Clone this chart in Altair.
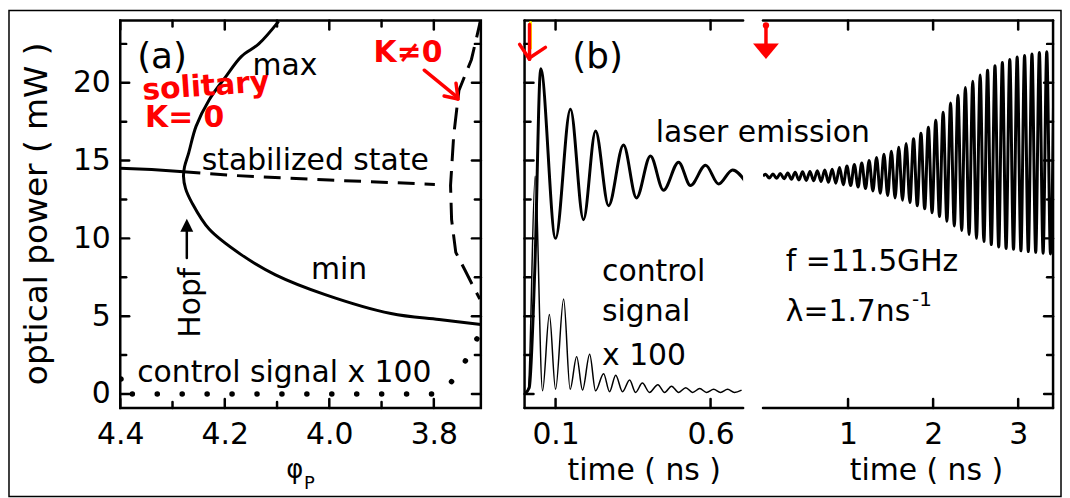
import altair as alt
import pandas as pd

FONT = "DejaVu Sans"
RED = "#ff0000"

# ---------------- panel (a): bifurcation diagram ----------------
a_osc_phi = [4.097, 4.135, 4.168, 4.198, 4.230, 4.255, 4.269, 4.277, 4.279, 4.275,
             4.263, 4.230, 4.168, 4.103, 4.008, 3.882, 3.79, 3.71]
a_osc_P = [23.95, 22.5, 21.7, 20.4, 18.9, 17.2, 15.5, 14.6, 14.0, 13.2,
           12.3, 10.6, 8.94, 7.66, 6.39, 5.17, 4.78, 4.47]
a_stable_phi = [4.40, 4.34, 4.279]
a_stable_P = [14.5, 14.42, 14.28]
a_stab_phi = [4.279, 4.187, 4.0, 3.798]
a_stab_P = [14.28, 14.05, 13.75, 13.47]
a_kd_phi = [3.710, 3.712, 3.728, 3.752, 3.762, 3.768, 3.766, 3.758, 3.741, 3.726, 3.712]
a_kd_P = [24.3, 23.8, 21.5, 19.5, 16.6, 13.4, 11.2, 9.1, 8.0, 7.0, 6.1]
a_ctrl_phi = [4.41, 4.40, 4.396, 4.30, 4.20, 4.10, 4.00, 3.90, 3.80, 3.78, 3.766, 3.747, 3.733, 3.720, 3.710]
a_ctrl_P = [2.5, 1.6, 0.0, 0.0, 0.0, 0.0, 0.0, 0.0, 0.0, 0.2, 0.8, 1.7, 2.5, 3.4, 4.0]
a_xlabels = [4.4, 4.2, 4.0, 3.8]
a_xminor = [4.3, 4.1, 3.9]
y_major = [0, 5, 10, 15, 20]
y_minor = [2.5, 7.5, 12.5, 17.5, 22.5]

# ---------------- panel (b): transient, 0..0.7 ns ----------------
b_laser_t = [0.0, 0.015, 0.033, 0.052, 0.100, 0.148, 0.190, 0.229, 0.271, 0.319, 0.361,
             0.406, 0.448, 0.497, 0.535, 0.584, 0.626, 0.671, 0.714]
b_laser_P = [0.0, 0.4, 8.0, 20.9, 10.0, 18.3, 11.2, 16.9, 12.1, 16.0, 12.6,
             15.3, 13.1, 14.9, 13.4, 14.7, 13.5, 14.4, 13.6]
b_ctrl_t = [0.0, 0.012, 0.034, 0.058, 0.080, 0.100, 0.126, 0.147, 0.168, 0.187, 0.210, 0.229,
            0.255, 0.274, 0.294, 0.316, 0.339, 0.358, 0.380, 0.403, 0.430, 0.452, 0.474,
            0.497, 0.520, 0.542, 0.565, 0.587, 0.610, 0.632, 0.655, 0.677, 0.700]
b_ctrl_P = [0.0, 0.3, 14.0, 0.2, 5.1, 0.3, 6.1, 0.3, 2.4, 0.25, 2.55, 0.2,
            1.3, 0.15, 1.2, 0.15, 0.9, 0.1, 0.7, 0.1, 0.6, 0.1, 0.5,
            0.1, 0.4, 0.1, 0.35, 0.1, 0.3, 0.1, 0.3, 0.1, 0.25]
b_xlabels = [0.1, 0.6]

# ---------------- panel (c): growing oscillation, 0..3.4 ns ----------------
c_peak_t = [0.030, 0.117, 0.204, 0.291, 0.378, 0.465, 0.552, 0.639, 0.726, 0.813,
            0.900, 0.987, 1.074, 1.161, 1.248, 1.335, 1.422, 1.509, 1.596, 1.683,
            1.770, 1.857, 1.944, 2.031, 2.118, 2.205, 2.292, 2.379, 2.466, 2.553,
            2.640, 2.727, 2.814, 2.901, 2.988, 3.075, 3.162, 3.249, 3.336, 3.423]
c_peak_P = [14.12, 14.14, 14.17, 14.2, 14.25, 14.28, 14.3, 14.35, 14.4, 14.45,
            14.55, 14.65, 14.75, 14.85, 15.0, 15.2, 15.4, 15.6, 15.85, 16.1,
            16.4, 16.75, 17.15, 17.6, 18.1, 18.7, 19.2, 19.7, 20.1, 20.5,
            20.8, 21.1, 21.3, 21.5, 21.65, 21.75, 21.85, 21.95, 22.0, 22.0]
c_trough_t = [0.074, 0.161, 0.248, 0.335, 0.422, 0.509, 0.596, 0.683, 0.770, 0.857,
              0.944, 1.031, 1.118, 1.205, 1.292, 1.379, 1.466, 1.553, 1.640, 1.727,
              1.814, 1.901, 1.988, 2.075, 2.162, 2.249, 2.336, 2.423, 2.510, 2.597,
              2.684, 2.771, 2.858, 2.945, 3.032, 3.119, 3.206, 3.293, 3.380]
c_trough_P = [13.88, 13.86, 13.83, 13.8, 13.75, 13.72, 13.7, 13.65, 13.6, 13.55,
              13.45, 13.4, 13.3, 13.2, 13.05, 12.9, 12.75, 12.6, 12.45, 12.3,
              12.1, 11.9, 11.65, 11.4, 11.1, 10.8, 10.5, 10.25, 10.0, 9.8,
              9.6, 9.45, 9.35, 9.3, 9.2, 9.15, 9.1, 9.05, 9.0]
c_start_t = [0.0]
c_start_P = [14.0]
c_xlabels = [1, 2, 3]

# ---------------- layout (plot-area sizes, scale domains) ----------------
WA, WB, WC, H = 363, 220, 292, 390
MAJ, MIN = 9, 6
Y_DOM = [-0.9, 24]
A_DOM = [3.71, 4.4]
B_DOM = [0, 0.705]
C_DOM = [0, 3.41]

one = pd.DataFrame({"k": [0]})
ysc = alt.Scale(domain=Y_DOM, nice=False, zero=False)


def label_axis(values, fmt, title, title_size=30, **kw):
    return alt.Axis(values=values, format=fmt, title=title, grid=False, domain=False,
                    ticks=False, tickSize=0, labelFont=FONT, labelFontSize=30,
                    labelColor="black", labelFlush=False, labelOverlap=False,
                    titleFont=FONT, titleFontSize=title_size, titleFontWeight="normal",
                    titleColor="black", **kw)


Xa = alt.X("phi:Q", scale=alt.Scale(domain=A_DOM, reverse=True, nice=False, zero=False),
           axis=label_axis(a_xlabels, ".1f", None, labelPadding=36, labelBaseline="alphabetic"))
Ya = alt.Y("P:Q", scale=ysc,
           axis=label_axis(y_major, "d", "optical power ( mW )", title_size=33, labelPadding=10,
                           titleX=-74, titleY=194, titleAngle=270,
                           titleAlign="center", titleBaseline="alphabetic"))
Xb = alt.X("t:Q", scale=alt.Scale(domain=B_DOM, nice=False, zero=False),
           axis=label_axis(b_xlabels, ".1f", "time ( ns )", labelPadding=36,
                           labelBaseline="alphabetic", titleX=120, titleY=72,
                           titleAlign="center", titleBaseline="alphabetic"))
Xc = alt.X("t:Q", scale=alt.Scale(domain=C_DOM, nice=False, zero=False),
           axis=label_axis(c_xlabels, "d", "time ( ns )", labelPadding=36,
                           labelBaseline="alphabetic", titleX=164, titleY=72,
                           titleAlign="center", titleBaseline="alphabetic"))
Yn = alt.Y("P:Q", scale=ysc, axis=None)


def line_df(xs, ys, xname):
    return pd.DataFrame({xname: xs, "P": ys, "i": list(range(len(xs)))})


def text(s, x, y, size=30, color="black", angle=0, align="left", weight="normal"):
    return alt.Chart(one).mark_text(text=s, font=FONT, fontSize=size, color=color,
                                    angle=angle, align=align, baseline="alphabetic",
                                    fontWeight=weight).encode(x=alt.value(x), y=alt.value(y))


def seg(x1, y1, x2, y2, color="black", w=2.5):
    return alt.Chart(one).mark_rule(color=color, strokeWidth=w, strokeCap="round").encode(
        x=alt.value(x1), y=alt.value(y1), x2=alt.value(x2), y2=alt.value(y2))


def symbol(shape, x, y, size, color):
    return alt.Chart(one).mark_point(shape=shape, filled=True, color=color, size=size,
                                     opacity=1, strokeWidth=0).encode(
        x=alt.value(x), y=alt.value(y))


# linear maps used for the inward axis ticks (same domains as the scales above)
def lin(dom, size, reverse=False):
    lo, hi = dom
    if reverse:
        return lambda v: (hi - v) / (hi - lo) * size
    return lambda v: (v - lo) / (hi - lo) * size


map_y = lambda v: (Y_DOM[1] - v) / (Y_DOM[1] - Y_DOM[0]) * H
map_a = lin(A_DOM, WA, reverse=True)
map_b = lin(B_DOM, WB)
map_c = lin(C_DOM, WC)


def tick_marks(xmaj, xmin, fx, W, sides):
    out = []
    for vals, L in ((xmaj, MAJ), (xmin, MIN)):
        for v in vals:
            x = round(fx(v), 2)
            out.append(seg(x, H, x, H - L, w=2.5))
            out.append(seg(x, 0, x, L, w=2.5))
    for vals, L in ((y_major, MAJ), (y_minor, MIN)):
        for v in vals:
            y = round(map_y(v), 2)
            if "left" in sides:
                out.append(seg(0, y, L, y, w=2.5))
            if "right" in sides:
                out.append(seg(W, y, W - L, y, w=2.5))
    return out


# ---------------- panel (a) ----------------
a_layers = [
    alt.Chart(line_df(a_osc_phi, a_osc_P, "phi")).mark_line(
        color="black", strokeWidth=3, interpolate="catmull-rom", clip=True).encode(
        x=Xa, y=Ya, order="i:Q"),
    alt.Chart(line_df(a_stable_phi, a_stable_P, "phi")).mark_line(
        color="black", strokeWidth=3, clip=True).encode(x=Xa, y=Ya, order="i:Q"),
    alt.Chart(line_df(a_stab_phi, a_stab_P, "phi")).mark_line(
        color="black", strokeWidth=3, strokeDash=[17, 10], clip=True).encode(x=Xa, y=Ya, order="i:Q"),
    alt.Chart(line_df(a_kd_phi, a_kd_P, "phi")).mark_line(
        color="black", strokeWidth=3, strokeDash=[22, 10], clip=True).encode(x=Xa, y=Ya, order="i:Q"),
    alt.Chart(line_df(a_ctrl_phi, a_ctrl_P, "phi")).mark_line(
        color="black", strokeWidth=5.5, strokeDash=[0.1, 25], strokeCap="round", clip=True
    ).encode(x=Xa, y=Ya, order="i:Q"),
]
a_layers += tick_marks(a_xlabels, a_xminor, map_a, WA, ("left", "right"))
a_layers += [
    alt.Chart(one).mark_rect(fillOpacity=0, stroke="black", strokeWidth=2.5).encode(
        x=alt.value(0), x2=alt.value(WA), y=alt.value(0), y2=alt.value(H)),
    # outer frame round the whole figure
    alt.Chart(one).mark_rect(fillOpacity=0, stroke="black", strokeWidth=1.5).encode(
        x=alt.value(-112), x2=alt.value(947), y=alt.value(-10), y2=alt.value(479)),
    text("(a)", 17, 48, size=36),
    text("max", 133, 55),
    text("stabilized state", 82, 150),
    text("min", 192, 260),
    text("control signal x 100", 17, 364),
    text("Hopf", 80, 284, size=30, angle=270, align="center"),
    seg(67, 239, 67, 210, w=2.5),
    symbol("M -1 1 L 1 1 L 0 -1 Z", 67, 206, 169, "black"),
    text("φ", 167, 460, size=26),
    text("P", 185, 472, size=18),
    text("solitary", 23, 80, size=30, color=RED, angle=356, weight="bold"),
    text("K= 0", 25, 107, size=30, color=RED, weight="bold"),
    text("K≠0", 255, 42, size=30, color=RED, weight="bold"),
    seg(306, 50, 338, 76, color=RED, w=3.5),
    seg(326, 76, 340, 79, color=RED, w=3.5),
    seg(338, 63, 340, 79, color=RED, w=3.5),
]
panel_a = alt.layer(*a_layers).properties(width=WA, height=H)

# ---------------- panel (b) ----------------
b_layers = [
    alt.Chart(line_df(b_ctrl_t, b_ctrl_P, "t")).mark_line(
        color="black", strokeWidth=1.5, interpolate="monotone", clip=True).encode(x=Xb, y=Yn),
    alt.Chart(line_df(b_laser_t, b_laser_P, "t")).mark_line(
        color="black", strokeWidth=3, interpolate="monotone", clip=True).encode(x=Xb, y=Yn),
]
b_layers += tick_marks(b_xlabels, [], map_b, WB, ("left",))
b_layers += [
    seg(0, 0, 0, H, w=2.5), seg(0, 0, WB, 0, w=2.5), seg(0, H, WB, H, w=2.5),
    text("(b)", 48, 48, size=36),
    text("laser emission", 132, 122),
    text("control", 78, 262),
    text("signal", 78, 302),
    text("x 100", 78, 347),
    seg(6, 2, 6, 28, color="#ffee00", w=3),
    seg(5, 4, 5, 39, color=RED, w=3.5),
    seg(-5, 24, 5, 39, color=RED, w=3.5),
    seg(21, 27, 6, 37, color=RED, w=3.5),
]
panel_b = alt.layer(*b_layers).properties(width=WB, height=H)

# ---------------- panel (c) ----------------
c_t = c_start_t + c_peak_t + c_trough_t
c_P = c_start_P + c_peak_P + c_trough_P
c_layers = [
    alt.Chart(line_df(c_t, c_P, "t")).mark_line(
        color="black", strokeWidth=3, interpolate="monotone", clip=True).encode(x=Xc, y=Yn),
]
c_layers += tick_marks(c_xlabels, [], map_c, WC, ("right",))
c_layers += [
    seg(WC, 0, WC, H, w=2.5), seg(0, 0, WC, 0, w=2.5), seg(0, H, WC, H, w=2.5),
    text("f =11.5GHz", 23, 252),
    text("λ=1.7ns", 23, 302),
    text("-1", 150, 287, size=20),
    seg(3, 5, 3, 26, color=RED, w=3.5),
    symbol("circle", 3, 5, 40, RED),
    symbol("M -1 -0.6 L 1 -0.6 L 0 0.6 Z", 3, 31, 676, RED),
]
panel_c = alt.layer(*c_layers).properties(width=WC, height=H)

right = alt.hconcat(panel_b, panel_c, spacing=20, bounds="flush")
chart = alt.hconcat(panel_a, right, spacing=44, bounds="flush").properties(
    padding=0, background="white").configure_view(strokeWidth=0)

chart.save("out.html", embed_options={"renderer": "svg", "actions": False})
